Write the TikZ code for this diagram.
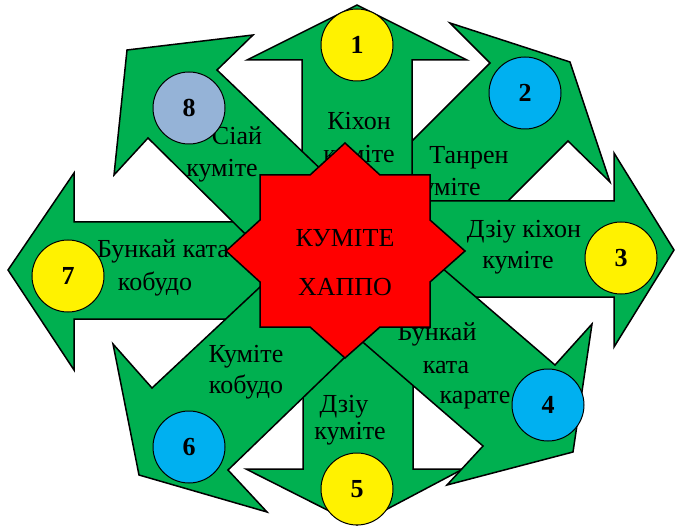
\documentclass[tikz,border=0pt]{standalone}
\usepackage{fontspec}
\setmainfont{Liberation Serif}
\definecolor{armgreen}{HTML}{00B050}
\definecolor{numcyan}{HTML}{00B0F0}
\definecolor{numgrey}{HTML}{95B3D7}
\usepackage{tikz}

\begin{document}
\begin{tikzpicture}[x=1pt,y=-1pt,
  arm/.style={draw=black,fill=armgreen,line width=1.5pt,line join=miter},
  hub/.style={draw=black,fill=red,line width=1.5pt,line join=miter},
  lbl/.style={anchor=base,inner sep=0pt,font=\fontsize{26}{31}\selectfont},
  num/.style={circle,draw=black,line width=1pt,minimum size=72pt,inner sep=0pt,font=\fontsize{26}{31}\selectfont\bfseries}]
\useasboundingbox (0,0) rectangle (676,526);
\draw[arm] (323.5,229.5) -- (490,63) -- (450,23) -- (570,62) -- (610,182) -- (568,141) -- (401.5,307.5) -- cycle;
\draw[arm] (302,251) -- (302,60) -- (247,60) -- (357,5) -- (467,60) -- (412,60) -- (412,251) -- cycle;
\draw[arm] (345,201) -- (614,201) -- (614,153) -- (674,250) -- (614,347) -- (614,297) -- (345,297) -- cycle;
\draw[arm] (303,251) -- (303,469) -- (246,469) -- (357,525) -- (463,469) -- (413,469) -- (413,251) -- cycle;
\draw[arm] (378,213) -- (555,365) -- (592,324) -- (573,452) -- (447,485) -- (483,446) -- (307.5,294.3) -- cycle;
\draw[arm] (345,222) -- (74,222) -- (74,173) -- (8,270) -- (74,370) -- (74,319) -- (345,319) -- cycle;
\draw[arm] (322.6,228.5) -- (152,388) -- (113,344) -- (139,475) -- (267,512) -- (228,470) -- (399,305) -- cycle;
\draw[arm] (375,221) -- (217,70) -- (253,35) -- (127,50) -- (114,175) -- (148,138) -- (304,292) -- cycle;
\node[lbl] (kihon1) at (359,130) {Кіхон};
\node[lbl] (kihon2) at (359,163) {куміте};
\node[lbl] (tanren1) at (469,164) {Танрен};
\node[lbl] (tanren2) at (445,196) {куміте};
\node[lbl] (dzkihon1) at (524,238) {Дзіу кіхон};
\node[lbl] (dzkihon2) at (518,268) {куміте};
\node[lbl] (bkarate1) at (437,340) {Бункай};
\node[lbl] (bkarate2) at (446,373) {ката};
\node[lbl] (bkarate3) at (475,403) {карате};
\node[lbl] (dzkumite1) at (344,412) {Дзіу};
\node[lbl] (dzkumite2) at (350,439) {куміте};
\node[lbl] (kkobudo1) at (246,362) {Куміте};
\node[lbl] (kkobudo2) at (246,393) {кобудо};
\node[lbl] (bkobudo1) at (163,258) {Бункай ката};
\node[lbl] (bkobudo2) at (155,290) {кобудо};
\node[lbl] (siai1) at (237,145) {Сіай};
\node[lbl] (siai2) at (222,177) {куміте};
\draw[hub] (345,143) -- (380,175) -- (430,175) -- (430,220) -- (465,251) -- (430,282) -- (430,327) -- (380,327) -- (345,358) -- (310,327) -- (260,327) -- (260,282) -- (226,251) -- (260,220) -- (260,175) -- (310,175) -- cycle;
\node[lbl] (hub1) at (345,247) {КУМІТЕ};
\node[lbl] (hub2) at (345,295) {ХАППО};
\node[num,fill=yellow] (n1) at (357,45) {1};
\node[num,fill=numcyan] (n2) at (525,93) {2};
\node[num,fill=yellow] (n3) at (621,258) {3};
\node[num,fill=numcyan] (n4) at (548,405) {4};
\node[num,fill=yellow] (n5) at (357,489) {5};
\node[num,fill=numcyan] (n6) at (189,447) {6};
\node[num,fill=yellow] (n7) at (68,276) {7};
\node[num,fill=numgrey] (n8) at (189,108) {8};
\end{tikzpicture}
\end{document}
